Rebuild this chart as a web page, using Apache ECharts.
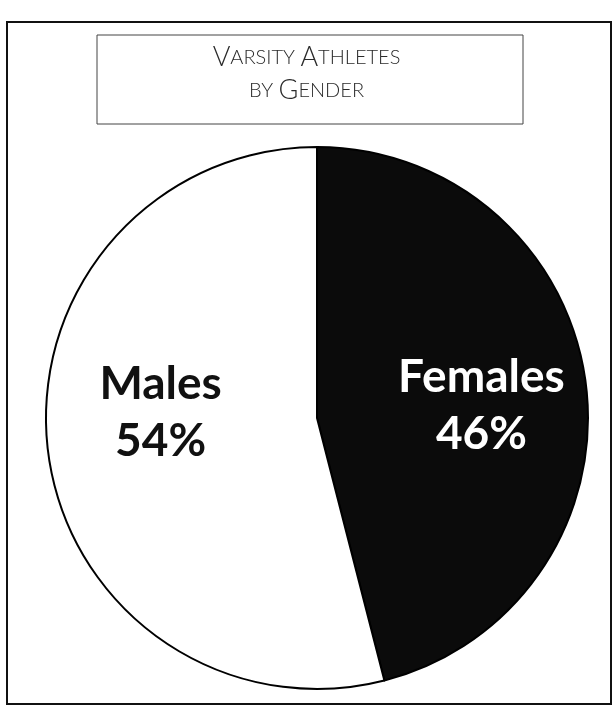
<!DOCTYPE html>
<html>
<head>
<meta charset="utf-8">
<script src="https://cdn.jsdelivr.net/npm/echarts@6/dist/echarts.min.js"></script>
<style>
  html, body { margin: 0; padding: 0; background: #fff; }
  #main { width: 613px; height: 707px; }
</style>
</head>
<body>
<div id="main"></div>
<script>
// data
var categories = ['Females', 'Males'];
var shares = [46, 54];
var titleLines = ['Varsity Athletes', 'by Gender'];

// label nudges (px) so the text sits where the print has it
var labelShift = [[27, 5], [-19, -23]];

// turn a line into small caps rich text
var smallCaps = function (line) {
    return line.split(' ').map(function (word) {
        var first = word.charAt(0), rest = word.slice(1).toUpperCase();
        if (first === first.toUpperCase()) {
            return '{cap|' + first + '}' + (rest ? '{sm|' + rest + '}' : '');
        }
        return '{sm|' + word.toUpperCase() + '}';
    }).join('{sm| }');
};

var chart = echarts.init(document.getElementById('main'));

var pieData = categories.map(function (name, i) {
    return {
        name: name,
        value: shares[i],
        itemStyle: { color: i === 0 ? '#0b0b0b' : '#ffffff' },
        label: { color: i === 0 ? '#ffffff' : '#111111' }
    };
});

chart.setOption({
    backgroundColor: '#ffffff',
    animation: false,
    title: {
        text: titleLines.map(smallCaps).join('\n'),
        left: 'center',
        top: 41,
        padding: 0,
        textStyle: {
            rich: {
                cap: { fontFamily: 'Lato', fontWeight: 300, fontSize: 27, color: '#2a2a2a', lineHeight: 33 },
                sm: { fontFamily: 'Lato', fontWeight: 300, fontSize: 20, color: '#2a2a2a', lineHeight: 33 }
            }
        }
    },
    graphic: [{
        type: 'rect',
        shape: { x: 7, y: 22, width: 604, height: 682 },
        style: { fill: 'none', stroke: '#111', lineWidth: 2 },
        silent: true
    }, {
        type: 'rect',
        shape: { x: 97, y: 35, width: 426, height: 89 },
        style: { fill: 'none', stroke: '#444', lineWidth: 1 },
        silent: true
    }],
    series: [{
        type: 'pie',
        center: [317, 418],
        radius: 271,
        startAngle: 90,
        clockwise: true,
        data: pieData,
        itemStyle: { borderColor: '#000', borderWidth: 2 },
        label: {
            show: true,
            position: 'inside',
            formatter: '{b}\n{c}%',
            fontFamily: 'Lato',
            fontWeight: 'bold',
            fontSize: 46,
            lineHeight: 57
        },
        labelLine: { show: false },
        labelLayout: function (params) {
            var s = labelShift[params.dataIndex];
            return { dx: s[0], dy: s[1] };
        },
        emphasis: { disabled: true }
    }]
});
</script>
</body>
</html>
